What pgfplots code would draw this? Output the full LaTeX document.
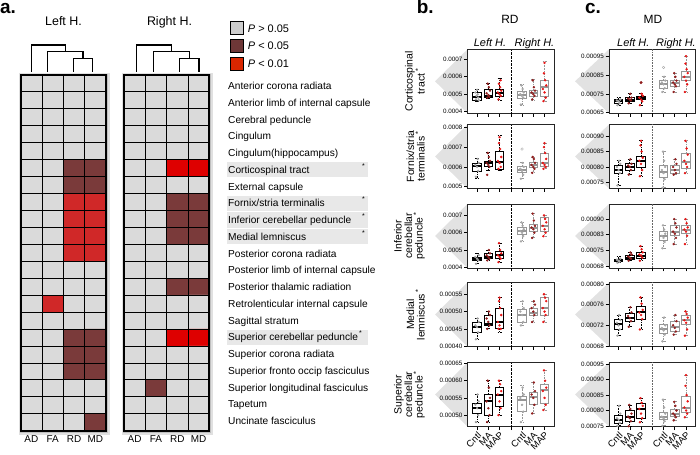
\documentclass[border=0pt]{standalone}
\usepackage{pgfplots}
\pgfplotsset{compat=1.18}
\usepgfplotslibrary{statistics}
\usepackage{fontspec}
\setmainfont{Liberation Sans}
\setsansfont{Liberation Sans}
\definecolor{cg}{RGB}{168,168,168}
\definecolor{cma}{RGB}{145,30,30}
\definecolor{cmap}{RGB}{232,22,22}
\definecolor{rbox}{RGB}{150,150,150}
\definecolor{wedge}{RGB}{226,226,226}
\definecolor{shade}{RGB}{232,232,232}
\newcommand{\fsz}[1]{\fontsize{#1}{#1}\selectfont}
% box-plot values are in units of 1e-4 (e.g. 4.58 = 0.000458)
\newcommand{\BL}[6]{\addplot[black, line width=0.8bp, boxplot prepared={draw direction=y, draw position=#1, lower whisker=#2, lower quartile=#3, median=#4, upper quartile=#5, upper whisker=#6}] coordinates {};}
\newcommand{\BR}[6]{\addplot[rbox, line width=0.8bp, boxplot prepared={draw direction=y, draw position=#1, lower whisker=#2, lower quartile=#3, median=#4, upper quartile=#5, upper whisker=#6}] coordinates {};}
\newcommand{\PC}[1]{\addplot[only marks, mark=*, mark size=1bp, color=cg] coordinates {#1};}
\newcommand{\PM}[1]{\addplot[only marks, mark=*, mark size=1bp, color=cma] coordinates {#1};}
\newcommand{\PP}[1]{\addplot[only marks, mark=*, mark size=1bp, color=cmap] coordinates {#1};}
\pgfplotsset{
  hm/.style={scale only axis, width=85.3bp, height=355.7bp, anchor=south west,
    xmin=-0.5, xmax=3.5, ymin=-0.5, ymax=20.5, y dir=reverse, enlargelimits=false,
    xtick={0,1,2,3}, xticklabels={AD,FA,RD,MD}, ytick={0,1,...,20}, yticklabel=\empty, major tick length=0pt,
    minor xtick={0.5,1.5,2.5}, minor ytick={0.5,1.5,...,19.5}, minor tick length=0pt,
    grid=minor, minor grid style={black, line width=0.9bp},
    axis line style={black, line width=1.8bp}, axis on top,
    xticklabel style={font=\fsz{10}, yshift=-1.5bp},
    point meta min=0, point meta max=2},
  bxs/.style={scale only axis, width=86.6bp, height=64bp, anchor=north west,
    xmin=0.15, xmax=7.85, xtick={1,2,3,5,6,7}, xticklabels={},
    extra x ticks={4}, extra x tick labels={},
    extra x tick style={grid=major, major grid style={black, densely dotted, line width=0.6bp}},
    tick align=outside, tick pos=left, major tick length=3.5bp,
    axis line style={black!85, line width=0.7bp}, tick style={black, line width=0.6bp},
    yticklabel style={font=\fsz{6.3}, inner sep=1.5bp},
    scaled y ticks=false, /pgf/number format/assume math mode=true,
    boxplot/draw direction=y,
    boxplot/box extend=0.75, boxplot/whisker extend=0.35,
    boxplot/every median/.style={line width=2bp},
    boxplot/every whisker/.style={dash pattern=on 1.6bp off 1bp}},
  bxc/.style={bxs, extra x tick style={grid=major, major grid style={black!60, densely dotted, line width=0.6bp}}},
  bxbot/.style={xticklabels={Cntl,MA,MAP,Cntl,MA,MAP},
    xticklabel style={rotate=45, anchor=north east, font=\fsz{9.5}, inner sep=0.8bp}},
}
\begin{document}
\begin{tikzpicture}
% ---------------- canvas (pixel coordinates) ----------------
\begin{axis}[at={(0bp,0bp)}, anchor=south west, scale only axis, width=700bp, height=455bp,
  xmin=0, xmax=700, ymin=0, ymax=455, y dir=reverse, hide axis, clip=false]
\addplot[fill=wedge, draw=none] coordinates {(467.5,49.3)(435,81.3)(467.5,113.3)};
\addplot[fill=wedge, draw=none] coordinates {(467.5,124.5)(435,156.5)(467.5,188.5)};
\addplot[fill=wedge, draw=none] coordinates {(467.5,204)(435,236)(467.5,268)};
\addplot[fill=wedge, draw=none] coordinates {(467.5,282.5)(435,314.5)(467.5,346.5)};
\addplot[fill=wedge, draw=none] coordinates {(467.5,362.5)(435,394.5)(467.5,426.5)};
\addplot[fill=wedge, draw=none] coordinates {(609,49.3)(575,81.3)(609,113.3)};
\addplot[fill=wedge, draw=none] coordinates {(609,124.5)(575,156.5)(609,188.5)};
\addplot[fill=wedge, draw=none] coordinates {(609,204)(575,236)(609,268)};
\addplot[fill=wedge, draw=none] coordinates {(609,282.5)(575,314.5)(609,346.5)};
\addplot[fill=wedge, draw=none] coordinates {(609,362.5)(575,394.5)(609,426.5)};
\addplot[fill=black!12, draw=none] coordinates {(18.5,73)(109.5,73)(109.5,434.5)(18.5,434.5)};
\addplot[fill=black!25, draw=none] coordinates {(19.5,74)(108,74)(108,432.8)(19.5,432.8)};
\addplot[fill=black!12, draw=none] coordinates {(121.8,73)(212.8,73)(212.8,434.5)(121.8,434.5)};
\addplot[fill=black!25, draw=none] coordinates {(122.8,74)(211.3,74)(211.3,432.8)(122.8,432.8)};
\addplot[fill=shade, draw=none] coordinates {(226.7,162.1)(368,162.1)(368,177.4)(226.7,177.4)};
\addplot[fill=shade, draw=none] coordinates {(226.7,195.6)(368,195.6)(368,210.9)(226.7,210.9)};
\addplot[fill=shade, draw=none] coordinates {(226.7,212.4)(368,212.4)(368,227.6)(226.7,227.6)};
\addplot[fill=shade, draw=none] coordinates {(226.7,229.1)(368,229.1)(368,244.4)(226.7,244.4)};
\addplot[fill=shade, draw=none] coordinates {(226.7,329.6)(368,329.6)(368,344.9)(226.7,344.9)};
\addplot[black, line width=1.2bp] coordinates {(31.7,72)(31.7,45)(65.2,45)(65.2,51.7)};
\addplot[black, line width=1.2bp] coordinates {(47.3,72)(47.3,51.7)(83,51.7)(83,58.3)};
\addplot[black, line width=1.2bp] coordinates {(73.3,72)(73.3,58.3)(92.7,58.3)(92.7,72)};
\addplot[black, line width=1.2bp] coordinates {(136.7,72)(136.7,45)(171.2,45)(171.2,51.7)};
\addplot[black, line width=1.2bp] coordinates {(153.3,72)(153.3,51.7)(189.2,51.7)(189.2,58.3)};
\addplot[black, line width=1.2bp] coordinates {(179.3,72)(179.3,58.3)(199,58.3)(199,72)};
\addplot[fill={rgb,255:red,205;green,205;blue,205}, draw=black, line width=1bp] coordinates {(230,21.7)(243,21.7)(243,35)(230,35)(230,21.7)};
\addplot[fill={rgb,255:red,110;green,55;blue,55}, draw=black, line width=1bp] coordinates {(230,39.3)(243,39.3)(243,52.3)(230,52.3)(230,39.3)};
\addplot[fill={rgb,255:red,218;green,38;blue,0}, draw=black, line width=1bp] coordinates {(230,57.3)(243,57.3)(243,70.7)(230,70.7)(230,57.3)};
\node[anchor=base west, inner sep=0, font=\bfseries\fsz{19}] at (0,13.5) {a.};
\node[anchor=base west, inner sep=0, font=\bfseries\fsz{19}] at (416.7,13.5) {b.};
\node[anchor=base west, inner sep=0, font=\bfseries\fsz{19}] at (585,13.5) {c.};
\node[anchor=base, inner sep=0, font=\fsz{12.5}] at (63.5,26) {Left H.};
\node[anchor=base, inner sep=0, font=\fsz{12.5}] at (169.5,26) {Right H.};
\node[anchor=base west, inner sep=0, font=\fsz{11}] at (247.7,32.3) {\textit{P} > 0.05};
\node[anchor=base west, inner sep=0, font=\fsz{11}] at (247.7,49.7) {\textit{P} < 0.05};
\node[anchor=base west, inner sep=0, font=\fsz{11}] at (247.7,67.9) {\textit{P} < 0.01};
\node[anchor=base, inner sep=0, font=\fsz{12}] at (510,24) {RD};
\node[anchor=base, inner sep=0, font=\fsz{12}] at (653,24) {MD};
\node[anchor=base, inner sep=0, font=\itshape\fsz{11}] at (490,46.5) {Left H.};
\node[anchor=base, inner sep=0, font=\itshape\fsz{11}] at (534.5,46.5) {Right H.};
\node[anchor=base, inner sep=0, font=\itshape\fsz{11}] at (633.3,46.5) {Left H.};
\node[anchor=base, inner sep=0, font=\itshape\fsz{11}] at (676,46.5) {Right H.};
\begin{scope}[every node/.style={anchor=base west, inner sep=0, font=\fsz{10.2}}]
\node at (228,89.7) {Anterior corona radiata};
\node at (228,106.45) {Anterior limb of internal capsule};
\node at (228,123.2) {Cerebral peduncle};
\node at (228,139.95) {Cingulum};
\node at (228,156.7) {Cingulum(hippocampus)};
\node at (228,173.45) {Corticospinal tract};
\node at (228,190.2) {External capsule};
\node at (228,206.95) {Fornix/stria terminalis};
\node at (228,223.7) {Inferior cerebellar peduncle};
\node at (228,240.45) {Medial lemniscus};
\node at (228,257.2) {Posterior corona radiata};
\node at (228,273.95) {Posterior limb of internal capsule};
\node at (228,290.7) {Posterior thalamic radiation};
\node at (228,307.45) {Retrolenticular internal capsule};
\node at (228,324.2) {Sagittal stratum};
\node at (228,340.95) {Superior cerebellar peduncle};
\node at (228,357.7) {Superior corona radiata};
\node at (228,374.45) {Superior fronto occip fasciculus};
\node at (228,391.2) {Superior longitudinal fasciculus};
\node at (228,407.95) {Tapetum};
\node at (228,424.7) {Uncinate fasciculus};
\end{scope}
\begin{scope}[every node/.style={anchor=center, inner sep=0, font=\fsz{7}}]
\node at (363.5,166) {*};
\node at (363.5,199.5) {*};
\node at (363.5,216.3) {*};
\node at (363.5,233) {*};
\node at (360.5,333.5) {*};
\end{scope}
\begin{scope}[every node/.style={rotate=90, anchor=south, align=center, inner sep=0, font=\fsz{10.5}}]
\node at (425,81.3) {Corticospinal\\tract\,\textsuperscript{*}};
\node at (425,156.5) {Fornix/stria\\terminalis\,\textsuperscript{*}};
\node at (425,236) {Inferior\\cerebellar\\peduncle\,\textsuperscript{*}};
\node at (425,314.5) {Medial\\lemniscus\,\textsuperscript{*}};
\node at (425,394.5) {Superior\\cerebellar\\peduncle\,\textsuperscript{*}};
\end{scope}
\end{axis}
% ---------------- heatmaps ----------------
\begin{axis}[hm, at={(20.7bp,24.3bp)}, colormap={hmL}{rgb255=(218,218,218) rgb255=(122,58,58) rgb255=(208,40,40)}]
\addplot[matrix plot*, mesh/cols=4, point meta=explicit] table[row sep=\\, meta=c] {
x y c\\
0 0 0\\1 0 0\\2 0 0\\3 0 0\\
0 1 0\\1 1 0\\2 1 0\\3 1 0\\
0 2 0\\1 2 0\\2 2 0\\3 2 0\\
0 3 0\\1 3 0\\2 3 0\\3 3 0\\
0 4 0\\1 4 0\\2 4 0\\3 4 0\\
0 5 0\\1 5 0\\2 5 1\\3 5 1\\
0 6 0\\1 6 0\\2 6 1\\3 6 1\\
0 7 0\\1 7 0\\2 7 2\\3 7 2\\
0 8 0\\1 8 0\\2 8 2\\3 8 2\\
0 9 0\\1 9 0\\2 9 2\\3 9 2\\
0 10 0\\1 10 0\\2 10 2\\3 10 2\\
0 11 0\\1 11 0\\2 11 0\\3 11 0\\
0 12 0\\1 12 0\\2 12 0\\3 12 0\\
0 13 0\\1 13 2\\2 13 0\\3 13 0\\
0 14 0\\1 14 0\\2 14 0\\3 14 0\\
0 15 0\\1 15 0\\2 15 1\\3 15 1\\
0 16 0\\1 16 0\\2 16 1\\3 16 1\\
0 17 0\\1 17 0\\2 17 1\\3 17 1\\
0 18 0\\1 18 0\\2 18 0\\3 18 0\\
0 19 0\\1 19 0\\2 19 0\\3 19 0\\
0 20 0\\1 20 0\\2 20 0\\3 20 1\\
};
\end{axis}
\begin{axis}[hm, at={(124bp,24.3bp)}, colormap={hmR}{rgb255=(218,218,218) rgb255=(122,58,58) rgb255=(222,0,0)}]
\addplot[matrix plot*, mesh/cols=4, point meta=explicit] table[row sep=\\, meta=c] {
x y c\\
0 0 0\\1 0 0\\2 0 0\\3 0 0\\
0 1 0\\1 1 0\\2 1 0\\3 1 0\\
0 2 0\\1 2 0\\2 2 0\\3 2 0\\
0 3 0\\1 3 0\\2 3 0\\3 3 0\\
0 4 0\\1 4 0\\2 4 0\\3 4 0\\
0 5 0\\1 5 0\\2 5 2\\3 5 2\\
0 6 0\\1 6 0\\2 6 0\\3 6 0\\
0 7 0\\1 7 0\\2 7 1\\3 7 1\\
0 8 0\\1 8 0\\2 8 1\\3 8 1\\
0 9 0\\1 9 0\\2 9 1\\3 9 1\\
0 10 0\\1 10 0\\2 10 0\\3 10 0\\
0 11 0\\1 11 0\\2 11 0\\3 11 0\\
0 12 0\\1 12 0\\2 12 1\\3 12 1\\
0 13 0\\1 13 0\\2 13 0\\3 13 0\\
0 14 0\\1 14 0\\2 14 0\\3 14 0\\
0 15 0\\1 15 0\\2 15 2\\3 15 2\\
0 16 0\\1 16 0\\2 16 0\\3 16 0\\
0 17 0\\1 17 0\\2 17 0\\3 17 0\\
0 18 0\\1 18 1\\2 18 0\\3 18 0\\
0 19 0\\1 19 0\\2 19 0\\3 19 0\\
0 20 0\\1 20 0\\2 20 0\\3 20 0\\
};
\end{axis}
% ---------------- panel b (RD), values x 1e-4 ----------------
\begin{axis}[bxs, at={(467.5bp,405.7bp)}, ymin=3.9, ymax=7.58,
  ytick={4,5,6,7}, yticklabels={0.0004,0.0005,0.0006,0.0007}]
\BL{1}{4.58}{4.63}{4.86}{5.09}{5.29}
\BL{2}{4.77}{4.79}{4.9}{5.25}{5.63}
\BL{3}{4.67}{4.86}{5.09}{5.29}{5.91}
\BR{5}{4.33}{4.77}{4.96}{5.15}{5.59}
\BR{6}{4.67}{4.86}{5.09}{5.2}{5.86}
\BR{7}{4.58}{4.86}{5.43}{5.82}{6.86}
\PC{(0.9,4.7)(1.1,4.8)(0.95,4.9)(1.05,5.0)(1.15,4.65)(0.85,5.1)(1.0,5.25)(4.9,4.4)(5.1,4.8)(5.0,4.9)(4.85,5.0)(5.15,5.1)(5.05,5.3)(4.95,5.5)}
\PM{(1.9,4.8)(2.1,4.85)(2.0,4.95)(1.85,5.05)(2.15,5.2)(2.05,5.4)(1.95,5.6)(5.9,4.7)(6.1,4.9)(6.0,5.0)(5.85,5.1)(6.15,5.2)(6.05,5.4)(5.95,5.8)}
\PP{(2.9,4.7)(3.1,4.9)(3.0,5.0)(2.85,5.1)(3.15,5.2)(3.05,5.4)(2.95,5.6)(3.1,5.8)(6.9,4.6)(7.1,4.8)(7.0,5.1)(6.85,5.3)(7.15,5.5)(7.05,5.8)(6.95,6.2)(7.0,6.8)}
\end{axis}
\begin{axis}[bxs, at={(467.5bp,330.5bp)}, ymin=4.91, ymax=8.14,
  ytick={5,6,7,8}, yticklabels={0.0005,0.0006,0.0007,0.0008}]
\BL{1}{5.44}{5.78}{6.03}{6.2}{6.45}
\BL{2}{5.8}{6.03}{6.2}{6.28}{6.71}
\BL{3}{5.8}{5.85}{6.23}{6.79}{7.58}
\BR{5}{5.4}{5.7}{5.86}{6.03}{6.23}
\BR{6}{5.7}{5.95}{6.1}{6.25}{6.5}
\BR{7}{5.9}{6.0}{6.2}{6.7}{7.2}
\addplot[only marks, mark=o, mark size=1.3bp, color=cg] coordinates {(5,6.9)};
\PC{(0.9,5.5)(1.1,5.8)(1.0,6.0)(0.85,6.1)(1.15,6.2)(1.05,6.4)(4.9,5.4)(5.1,5.6)(5.0,5.8)(4.85,5.9)(5.15,6.0)(5.05,6.2)}
\PM{(1.9,5.6)(2.1,6.0)(2.0,6.1)(1.85,6.2)(2.15,6.3)(2.05,6.5)(1.95,6.7)(5.9,5.7)(6.1,5.9)(6.0,6.0)(5.85,6.1)(6.15,6.2)(6.05,6.4)(5.95,6.5)}
\PP{(2.9,5.9)(3.1,6.0)(3.0,6.2)(2.85,6.3)(3.15,6.5)(3.05,6.9)(2.95,7.2)(3.0,7.5)(6.9,5.9)(7.1,6.0)(7.0,6.1)(6.85,6.2)(7.15,6.4)(7.05,6.7)(6.95,7.0)(7.0,7.2)}
\end{axis}
\begin{axis}[bxs, at={(467.5bp,251bp)}, ymin=3.96, ymax=7.66,
  ytick={4,5,6,7}, yticklabels={0.0004,0.0005,0.0006,0.0007}]
\BL{1}{4.2}{4.4}{4.5}{4.6}{4.8}
\BL{2}{4.4}{4.5}{4.6}{4.8}{5.0}
\BL{3}{4.3}{4.5}{4.7}{4.9}{5.4}
\BR{5}{5.5}{5.9}{6.1}{6.3}{6.6}
\BR{6}{5.7}{6.1}{6.3}{6.5}{7.1}
\BR{7}{5.8}{6.1}{6.4}{6.9}{7.0}
\PC{(0.9,4.2)(1.1,4.4)(1.0,4.5)(0.85,4.6)(1.15,4.7)(4.9,5.5)(5.1,5.8)(5.0,6.0)(4.85,6.1)(5.15,6.2)(5.05,6.4)(4.95,6.6)}
\PM{(1.9,4.4)(2.1,4.5)(2.0,4.6)(1.85,4.7)(2.15,4.8)(2.05,5.0)(5.9,5.7)(6.1,6.0)(6.0,6.2)(5.85,6.3)(6.15,6.4)(6.05,6.7)(5.95,7.1)}
\PP{(2.9,4.3)(3.1,4.5)(3.0,4.6)(2.85,4.7)(3.15,4.8)(3.05,5.0)(2.95,5.4)(6.9,5.8)(7.1,6.0)(7.0,6.2)(6.85,6.4)(7.15,6.6)(7.05,6.8)(6.95,7.0)}
\end{axis}
\begin{axis}[bxs, at={(467.5bp,172.5bp)}, ymin=3.99, ymax=5.84,
  ytick={4,4.5,5,5.5}, yticklabels={0.00040,0.00045,0.00050,0.00055}]
\BL{1}{4.2}{4.4}{4.55}{4.7}{4.8}
\BL{2}{4.5}{4.6}{4.65}{4.9}{5.0}
\BL{3}{4.4}{4.5}{4.7}{5.1}{5.4}
\BR{5}{4.6}{4.7}{4.9}{5.05}{5.3}
\BR{6}{4.7}{4.9}{4.95}{5.1}{5.3}
\BR{7}{4.7}{4.9}{5.1}{5.4}{5.5}
\PC{(0.9,4.2)(1.1,4.4)(1.0,4.55)(0.85,4.6)(1.15,4.7)(1.05,4.8)(4.9,4.6)(5.1,4.7)(5.0,4.9)(4.85,5.0)(5.15,5.1)(5.05,5.3)}
\PM{(1.9,4.5)(2.1,4.6)(2.0,4.7)(1.85,4.8)(2.15,4.9)(2.05,5.0)(5.9,4.7)(6.1,4.9)(6.0,5.0)(5.85,5.1)(6.15,5.2)(6.05,5.3)}
\PP{(2.9,4.5)(3.1,4.5)(3.0,4.6)(2.85,4.7)(3.15,4.9)(3.05,5.1)(2.95,5.3)(3.0,5.4)(6.9,4.7)(7.1,4.9)(7.0,5.0)(6.85,5.1)(7.15,5.3)(7.05,5.4)(6.95,5.5)}
\end{axis}
\begin{axis}[bxs, bxbot, at={(467.5bp,92.5bp)}, ymin=4.67, ymax=6.53,
  ytick={5,5.5,6,6.5}, yticklabels={0.00050,0.00055,0.00060,0.00065}]
\BL{1}{4.8}{5.05}{5.2}{5.35}{5.6}
\BL{2}{4.8}{5.0}{5.4}{5.6}{6.0}
\BL{3}{5.0}{5.25}{5.6}{5.8}{6.0}
\BR{5}{4.8}{5.1}{5.45}{5.55}{5.85}
\BR{6}{5.05}{5.3}{5.53}{5.65}{5.95}
\BR{7}{5.15}{5.35}{5.72}{5.9}{6.3}
\PC{(0.9,4.8)(1.1,5.0)(1.0,5.2)(0.85,5.3)(1.15,5.4)(1.05,5.6)(4.9,4.8)(5.1,5.1)(5.0,5.3)(4.85,5.5)(5.15,5.6)(5.05,5.8)}
\PM{(1.9,4.8)(2.1,5.0)(2.0,5.2)(1.85,5.4)(2.15,5.5)(2.05,5.8)(1.95,6.0)(5.9,5.05)(6.1,5.3)(6.0,5.5)(5.85,5.6)(6.15,5.7)(6.05,5.95)}
\PP{(2.9,5.0)(3.1,5.2)(3.0,5.4)(2.85,5.6)(3.15,5.7)(3.05,5.9)(2.95,6.0)(6.9,5.15)(7.1,5.3)(7.0,5.5)(6.85,5.7)(7.15,5.8)(7.05,6.0)(6.95,6.3)}
\end{axis}
% ---------------- panel c (MD), values x 1e-4 ----------------
\begin{axis}[bxc, at={(609bp,405.7bp)}, ymin=6.47, ymax=9.86,
  ytick={6.5,7.5,8.5,9.5}, yticklabels={0.00065,0.00075,0.00085,0.00095}]
\BL{1}{6.9}{7.0}{7.1}{7.18}{7.3}
\BL{2}{7.0}{7.12}{7.2}{7.3}{7.5}
\BL{3}{6.9}{7.18}{7.3}{7.38}{7.5}
\BR{5}{7.6}{7.8}{8.0}{8.2}{8.4}
\BR{6}{7.6}{7.9}{8.05}{8.2}{8.6}
\BR{7}{7.6}{8.2}{8.4}{8.7}{9.5}
\addplot[only marks, mark=o, mark size=1.3bp, color=cg] coordinates {(5,8.9)};
\addplot[only marks, mark=*, mark size=1.3bp, color=cma] coordinates {(3,8.1)};
\PC{(0.9,6.9)(1.1,7.0)(1.0,7.1)(0.85,7.15)(1.15,7.2)(4.9,7.6)(5.1,7.8)(5.0,8.0)(4.85,8.1)(5.15,8.2)(5.05,8.4)}
\PM{(1.9,7.0)(2.1,7.15)(2.0,7.2)(1.85,7.25)(2.15,7.3)(2.05,7.5)(5.9,7.6)(6.1,7.9)(6.0,8.0)(5.85,8.1)(6.15,8.2)(6.05,8.4)(5.95,8.6)}
\PP{(2.9,6.9)(3.1,7.1)(3.0,7.2)(2.85,7.3)(3.15,7.4)(3.05,7.5)(6.9,7.6)(7.1,8.0)(7.0,8.2)(6.85,8.4)(7.15,8.6)(7.05,8.8)(6.95,9.1)(7.0,9.5)}
\end{axis}
\begin{axis}[bxc, at={(609bp,330.5bp)}, ymin=7.3, ymax=9.38,
  ytick={7.5,8,8.5,9}, yticklabels={0.00075,0.00080,0.00085,0.00090}]
\BL{1}{7.4}{7.8}{7.9}{8.05}{8.2}
\BL{2}{7.75}{7.9}{8.0}{8.1}{8.25}
\BL{3}{7.7}{8.0}{8.2}{8.35}{8.85}
\BR{5}{7.32}{7.65}{7.85}{8.05}{8.5}
\BR{6}{7.75}{7.8}{7.9}{8.05}{8.25}
\BR{7}{7.8}{7.95}{8.15}{8.45}{8.85}
\PC{(0.9,7.4)(1.1,7.8)(1.0,7.9)(0.85,8.0)(1.15,8.1)(1.05,8.2)(4.9,7.32)(5.1,7.6)(5.0,7.8)(4.85,7.9)(5.15,8.0)(5.05,8.2)(4.95,8.5)}
\PM{(1.9,7.75)(2.1,7.9)(2.0,8.0)(1.85,8.05)(2.15,8.1)(2.05,8.25)(5.9,7.75)(6.1,7.8)(6.0,7.9)(5.85,8.0)(6.15,8.1)(6.05,8.25)}
\PP{(2.9,7.7)(3.1,7.9)(3.0,8.1)(2.85,8.2)(3.15,8.3)(3.05,8.5)(2.95,8.7)(3.0,8.85)(6.9,7.8)(7.1,8.0)(7.0,8.1)(6.85,8.2)(7.15,8.4)(7.05,8.6)(6.95,8.85)}
\end{axis}
\begin{axis}[bxc, at={(609bp,251bp)}, ymin=6.65, ymax=9.73,
  ytick={6.75,7.5,8.25,9}, yticklabels={0.00068,0.00075,0.00083,0.00090}]
\BL{1}{6.9}{6.95}{7.0}{7.08}{7.2}
\BL{2}{7.0}{7.05}{7.15}{7.25}{7.4}
\BL{3}{7.0}{7.1}{7.25}{7.4}{7.7}
\BR{5}{7.6}{8.0}{8.2}{8.4}{8.7}
\BR{6}{7.8}{8.2}{8.4}{8.7}{9.0}
\BR{7}{7.8}{8.3}{8.5}{8.7}{9.0}
\PC{(0.9,6.9)(1.1,6.95)(1.0,7.0)(0.85,7.05)(1.15,7.1)(4.9,7.6)(5.1,7.9)(5.0,8.1)(4.85,8.2)(5.15,8.3)(5.05,8.5)(4.95,8.7)}
\PM{(1.9,7.0)(2.1,7.1)(2.0,7.15)(1.85,7.2)(2.15,7.3)(2.05,7.4)(5.9,7.8)(6.1,8.1)(6.0,8.3)(5.85,8.4)(6.15,8.6)(6.05,8.8)(5.95,9.0)}
\PP{(2.9,7.0)(3.1,7.15)(3.0,7.25)(2.85,7.3)(3.15,7.4)(3.05,7.55)(2.95,7.7)(6.9,7.8)(7.1,8.2)(7.0,8.4)(6.85,8.5)(7.15,8.6)(7.05,8.8)(6.95,9.0)}
\end{axis}
\begin{axis}[bxc, at={(609bp,172.5bp)}, ymin=6.79, ymax=8.03,
  ytick={6.8,7.2,7.6,8.0}, yticklabels={0.00068,0.00072,0.00076,0.00080}]
\BL{1}{7.0}{7.12}{7.22}{7.32}{7.4}
\BL{2}{7.17}{7.27}{7.35}{7.43}{7.55}
\BL{3}{7.12}{7.32}{7.45}{7.56}{7.74}
\BR{5}{6.89}{7.05}{7.13}{7.22}{7.35}
\BR{6}{7.02}{7.08}{7.17}{7.27}{7.4}
\BR{7}{7.0}{7.22}{7.3}{7.39}{7.47}
\PC{(0.9,7.0)(1.1,7.12)(1.0,7.2)(0.85,7.25)(1.15,7.3)(1.05,7.4)(4.9,6.89)(5.1,7.02)(5.0,7.1)(4.85,7.15)(5.15,7.2)(5.05,7.35)}
\PM{(1.9,7.17)(2.1,7.28)(2.0,7.34)(1.85,7.38)(2.15,7.45)(2.05,7.55)(5.9,7.02)(6.1,7.08)(6.0,7.15)(5.85,7.2)(6.15,7.28)(6.05,7.4)}
\PP{(2.9,7.12)(3.1,7.32)(3.0,7.4)(2.85,7.45)(3.15,7.5)(3.05,7.62)(2.95,7.74)(6.9,7.0)(7.1,7.12)(7.0,7.25)(6.85,7.3)(7.15,7.35)(7.05,7.42)(6.95,7.47)}
\end{axis}
\begin{axis}[bxc, bxbot, at={(609bp,92.5bp)}, ymin=7.48, ymax=9.56,
  ytick={7.5,8,8.5,9,9.5}, yticklabels={0.00075,0.00080,0.00085,0.00090,0.00095}]
\BL{1}{7.5}{7.58}{7.7}{7.85}{8.15}
\BL{2}{7.49}{7.65}{7.8}{8.0}{8.18}
\BL{3}{7.62}{7.75}{8.05}{8.22}{8.4}
\BR{5}{7.5}{7.7}{7.8}{7.95}{8.35}
\BR{6}{7.68}{7.8}{7.88}{8.03}{8.28}
\BR{7}{7.78}{7.95}{8.08}{8.45}{9.15}
\PC{(0.9,7.5)(1.1,7.6)(1.0,7.7)(0.85,7.75)(1.15,7.9)(1.05,8.15)(4.9,7.5)(5.1,7.65)(5.0,7.75)(4.85,7.8)(5.15,7.9)(5.05,8.1)(4.95,8.35)}
\PM{(1.9,7.49)(2.1,7.65)(2.0,7.75)(1.85,7.8)(2.15,7.9)(2.05,8.05)(1.95,8.18)(5.9,7.68)(6.1,7.78)(6.0,7.85)(5.85,7.9)(6.15,8.0)(6.05,8.15)(5.95,8.28)}
\PP{(2.9,7.62)(3.1,7.75)(3.0,7.9)(2.85,8.05)(3.15,8.15)(3.05,8.25)(2.95,8.4)(6.9,7.78)(7.1,7.9)(7.0,8.0)(6.85,8.1)(7.15,8.3)(7.05,8.5)(6.95,8.8)(7.0,9.15)}
\end{axis}
\pgfresetboundingbox
\path[use as bounding box] (0bp,0bp) rectangle (700bp,455bp);
\end{tikzpicture}
\end{document}
